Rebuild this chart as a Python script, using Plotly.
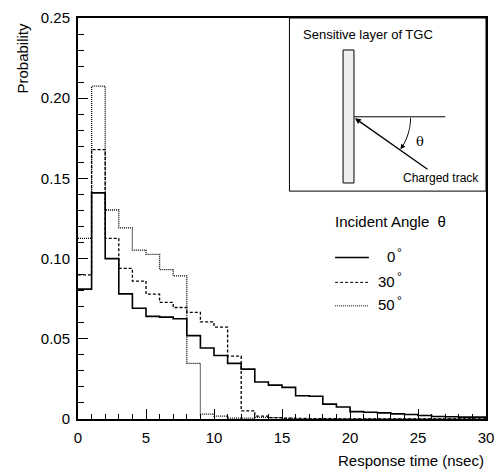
import numpy as np
import plotly.graph_objects as go

# ---------------- data ----------------
bin_edges = [0, 1, 2, 3, 4, 5, 6, 7, 8, 9, 10, 11, 12, 13, 14, 15,
             16, 17, 18, 19, 20, 21, 22, 23, 24, 25, 26, 27, 28, 29, 30]

prob_0deg = [0.081, 0.141, 0.100, 0.078, 0.069, 0.064, 0.0635, 0.0625, 0.052, 0.0443,
             0.0396, 0.0347, 0.0311, 0.0231, 0.0211, 0.0197, 0.0145, 0.0142, 0.0093, 0.0075,
             0.0046, 0.0042, 0.0038, 0.0032, 0.0028, 0.0022, 0.0016, 0.0014, 0.0012, 0.0012]

prob_30deg = [0.0898, 0.168, 0.1126, 0.0939, 0.086, 0.0778, 0.0727, 0.0695, 0.0665, 0.0605,
              0.0573, 0.0392, 0.0051, 0.0018, 0.0008, 0.0005, 0.0003, 0.0002, 0.0002, 0.0001,
              0.0, 0.0, 0.0, 0.0, 0.0, 0.0, 0.0, 0.0, 0.0, 0.0]

prob_50deg = [0.1126, 0.2075, 0.1303, 0.1191, 0.1053, 0.1026, 0.0931, 0.0892, 0.0347, 0.0030,
              0.0018, 0.0006, 0.0005, 0.0010, 0.0008, 0.0003, 0.0, 0.0, 0.0, 0.0,
              0.0, 0.0, 0.0, 0.0, 0.0, 0.0, 0.0, 0.0, 0.0, 0.0]

x_tickvals = [0, 5, 10, 15, 20, 25, 30]
x_ticktext = ["0", "5", "10", "15", "20", "25", "30"]
y_tickvals = [0, 0.05, 0.10, 0.15, 0.20, 0.25]
y_ticktext = ["0", "0.05", "0.10", "0.15", "0.20", "0.25"]

legend_labels = ["0", "30", "50"]

# ---------------- figure ----------------
W, H = 503, 475
ML, MR, MT, MB = 78, 14, 9, 56
PW, PH = W - ML - MR, H - MT - MB
FONT = "Liberation Sans, Arial, Helvetica, sans-serif"


def px(x):
    return (x - ML) / PW


def py(y):
    return (H - MB - y) / PH


series = [
    (prob_50deg, "1px,1px", 1.3),
    (prob_30deg, "3px,2px", 1.3),
    (prob_0deg, "solid", 1.6),
]

fig = go.Figure()
for vals, dash, w in series:
    fig.add_trace(go.Scatter(
        x=bin_edges, y=list(vals) + [vals[-1]],
        mode="lines", line=dict(shape="hv", color="black", width=w, dash=dash),
        showlegend=False, hoverinfo="skip", cliponaxis=True,
    ))

axis_common = dict(
    showgrid=False, zeroline=False, showline=True, linecolor="black", linewidth=2,
    mirror=True, ticks="inside", tickcolor="black", tickwidth=1.2,
    tickfont=dict(family=FONT, size=15, color="black"),
)

fig.update_xaxes(range=[0, 30], tickvals=x_tickvals, ticktext=x_ticktext, ticklen=10,
                 ticklabelstandoff=4,
                 minor=dict(dtick=1, ticklen=5, tickcolor="black", tickwidth=1.2, ticks="inside"),
                 **axis_common)
fig.update_yaxes(range=[0, 0.25], tickvals=y_tickvals, ticktext=y_ticktext, ticklen=10,
                 ticklabelstandoff=3,
                 minor=dict(dtick=0.01, ticklen=6, tickcolor="black", tickwidth=1.2, ticks="inside"),
                 **axis_common)

shapes = []
annotations = []

# inset box
shapes.append(dict(type="rect", xref="paper", yref="paper", x0=px(291), x1=px(489),
                   y0=py(186), y1=py(9), line=dict(color="black", width=1)))
# sensitive layer
shapes.append(dict(type="rect", xref="paper", yref="paper", x0=px(345), x1=px(356),
                   y0=py(177.7), y1=py(41.7), fillcolor="#eeeeee",
                   line=dict(color="black", width=1)))
# horizontal normal line
shapes.append(dict(type="line", xref="paper", yref="paper", x0=px(356), x1=px(448),
                   y0=py(110), y1=py(110), line=dict(color="black", width=1)))
# arc
cx, cy, r = 356.7, 111.0, 56.3
ang = np.linspace(0, np.deg2rad(33), 30)
pts = [(px(cx + r * np.cos(a)), py(cy + r * np.sin(a))) for a in ang]
path = "M " + " L ".join(f"{a:.5f},{b:.5f}" for a, b in pts)
shapes.append(dict(type="path", xref="paper", yref="paper", path=path,
                   line=dict(color="black", width=1)))
ae = np.deg2rad(35)
ex, ey = cx + r * np.cos(ae), cy + r * np.sin(ae)
annotations.append(dict(x=px(ex), y=py(ey), xref="paper", yref="paper", text="",
                        showarrow=True, arrowhead=2, arrowsize=1, arrowwidth=1,
                        ax=6 * np.sin(ae), ay=-6 * np.cos(ae), arrowcolor="black"))
# charged track arrow
annotations.append(dict(x=px(357), y=py(111.5), xref="paper", yref="paper", text="",
                        showarrow=True, arrowhead=2, arrowsize=0.9, arrowwidth=1.3,
                        ax=74, ay=52, arrowcolor="black", standoff=0))
annotations.append(dict(x=px(438), y=py(26), xref="paper", yref="paper",
                        text="Sensitive layer of TGC", showarrow=False, xanchor="right",
                        yanchor="middle", font=dict(family=FONT, size=13, color="black")))
annotations.append(dict(x=px(484), y=py(173), xref="paper", yref="paper",
                        text="Charged track", showarrow=False, xanchor="right",
                        yanchor="middle", font=dict(family=FONT, size=12, color="black")))
annotations.append(dict(x=px(423), y=py(135), xref="paper", yref="paper",
                        text="θ", showarrow=False, xanchor="center",
                        yanchor="middle", font=dict(family="DejaVu Serif", size=13, color="black")))

# legend
annotations.append(dict(x=px(335), y=py(217.5), xref="paper", yref="paper",
                        text="Incident Angle  θ", showarrow=False, xanchor="left",
                        yanchor="middle", font=dict(family=FONT, size=15, color="black")))
leg_y = [254, 279.3, 303.3]
leg_dash = ["solid", "3px,2px", "1px,1px"]
leg_w = [1.5, 1.0, 1.0]
for lab, yy, d, w in zip(legend_labels, leg_y, leg_dash, leg_w):
    shapes.append(dict(type="line", xref="paper", yref="paper", x0=px(337), x1=px(371),
                       y0=py(yy), y1=py(yy), line=dict(color="black", width=w, dash=d)))
    annotations.append(dict(x=px(399), y=py(yy - 1), xref="paper", yref="paper",
                            text=lab, showarrow=False, xanchor="right", yanchor="middle",
                            font=dict(family=FONT, size=15, color="black")))
    annotations.append(dict(x=px(397), y=py(yy - 5), xref="paper", yref="paper",
                            text="°", showarrow=False, xanchor="left", yanchor="middle",
                            font=dict(family=FONT, size=12, color="black")))

# axis titles
annotations.append(dict(x=1.0, y=py(461), xref="paper", yref="paper",
                        text="Response time (nsec)", showarrow=False, xanchor="right",
                        yanchor="middle", font=dict(family=FONT, size=15, color="black")))
annotations.append(dict(x=px(22), y=py(50), xref="paper", yref="paper",
                        text="Probability", showarrow=False, textangle=-90,
                        xanchor="center", yanchor="middle",
                        font=dict(family=FONT, size=15, color="black")))

fig.update_layout(
    width=W, height=H, margin=dict(l=ML, r=MR, t=MT, b=MB),
    paper_bgcolor="white", plot_bgcolor="white",
    shapes=shapes, annotations=annotations, showlegend=False,
    font=dict(family=FONT, color="black"),
)

fig.write_html("out.html")
